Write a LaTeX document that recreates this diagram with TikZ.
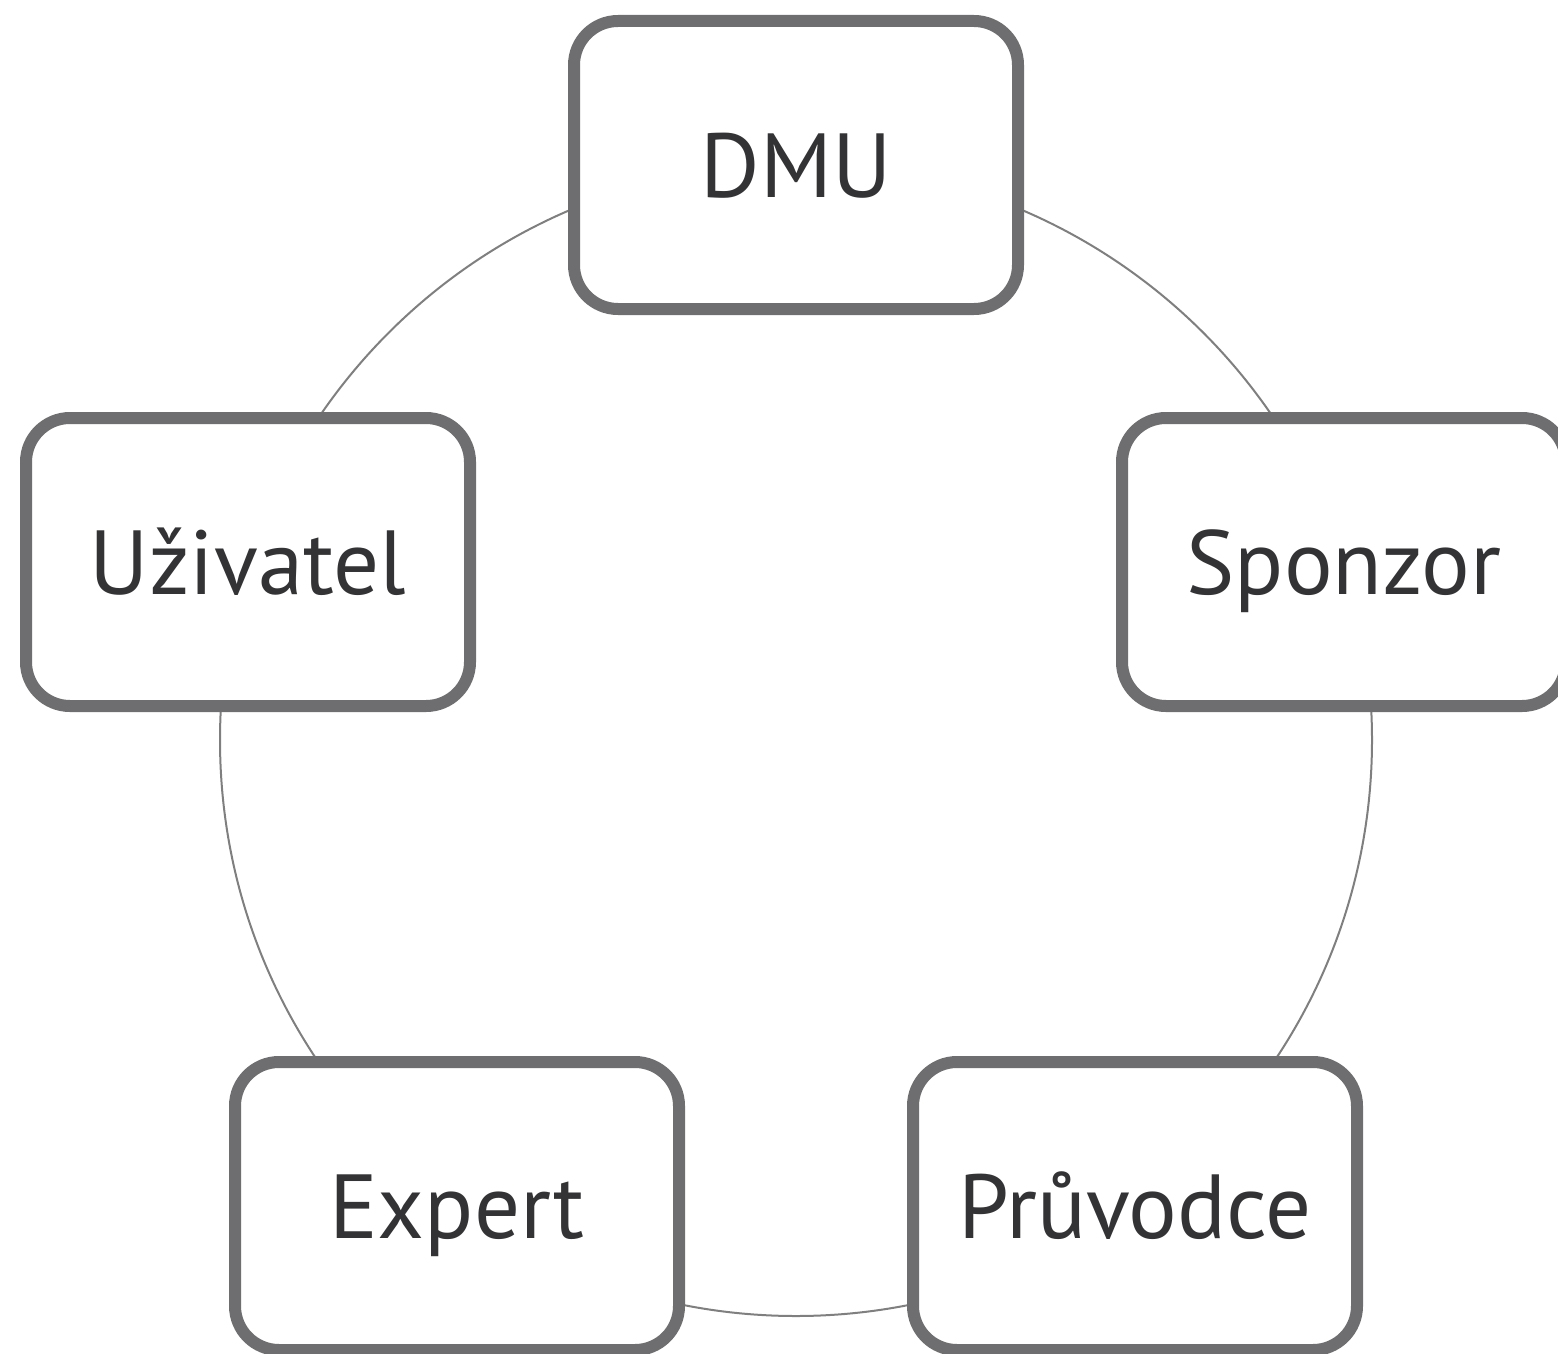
\documentclass[tikz,border=0pt]{standalone}
\usepackage{fontspec}
\setmainfont{PT Sans}
\usetikzlibrary{shadows}
\definecolor{boxline}{HTML}{6E6E70}
\definecolor{ringline}{HTML}{7F7F7F}
\definecolor{txt}{HTML}{333336}
\tikzset{
  rolebox/.style={draw=boxline, line width=12pt, fill=white, rounded corners=44pt,
    minimum width=444pt, minimum height=288pt, inner sep=0pt, text=txt,
    text height=64pt, text depth=0pt,
    font=\fontsize{91}{100}\selectfont,
    drop shadow={opacity=0.22, shadow xshift=2pt, shadow yshift=-5pt, fill=black}},
  ring/.style={draw=ringline, line width=2pt}
}
\begin{document}
\begin{tikzpicture}[x=1pt,y=-1pt]
\useasboundingbox (0,0) rectangle (1558,1354);
\clip (0,0) rectangle (1558,1354);
\coordinate (c) at (796,740);
\draw[ring] (c) circle[radius=576pt];
\node[rolebox] (dmu) at (796,165) {DMU};
\node[rolebox] (uz) at (248,562) {Uživatel};
\node[rolebox] (sp) at (1344,562) {Sponzor};
\node[rolebox] (ex) at (457,1206) {Expert};
\node[rolebox] (pr) at (1135,1206) {Průvodce};
\end{tikzpicture}
\end{document}
